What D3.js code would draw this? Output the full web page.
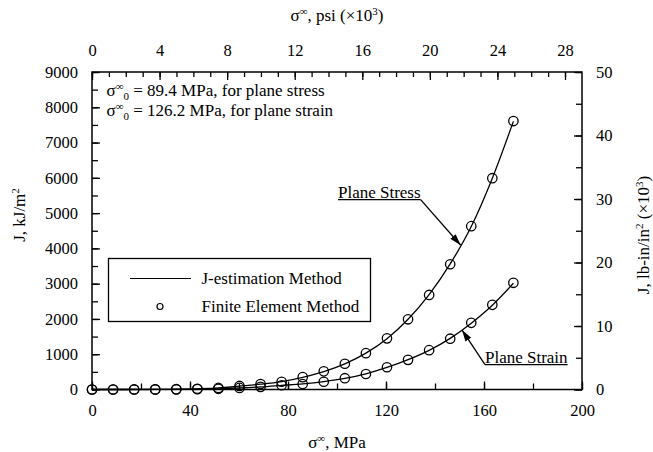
<!DOCTYPE html>
<html lang="en">
<head>
<meta charset="utf-8">
<title>J vs remote stress</title>
<script src="https://d3js.org/d3.v7.min.js"></script>
<style>
  body { margin: 0; background: #fff; }
  text { font-family: "Liberation Serif", "Times New Roman", serif; fill: #000; }
</style>
</head>
<body>
<script>
// remote stress at each load step, MPa
var stress = [0, 8.6, 17.2, 25.8, 34.4, 43, 51.6, 60.2, 68.8, 77.4, 86, 94.6,
              103.2, 111.8, 120.4, 129, 137.6, 146.2, 154.8, 163.4, 172];

// finite element results, J in kJ/m2
var feStress = [0, 0, 1, 3, 8, 20, 45, 100, 155, 220, 350, 515,
                730, 1030, 1450, 1990, 2680, 3550, 4630, 5990, 7610];
var feStrain = [0, 0, 0, 1, 4, 10, 20, 45, 75, 120, 155, 220,
                320, 440, 630, 840, 1115, 1440, 1890, 2400, 3025];

// J-estimation method curves, J in kJ/m2
var estStress = [0, 0, 1, 3, 8, 19, 42, 95, 150, 225, 345, 505,
                 725, 1030, 1440, 1990, 2690, 3560, 4620, 5990, 7600];
var estStrain = [0, 0, 0, 1, 4, 9, 19, 42, 72, 115, 160, 225,
                 315, 445, 625, 845, 1110, 1450, 1880, 2390, 3010];

// axis ticks
var mpaTicks = [0, 40, 80, 120, 160, 200];
var ksiTicks = [0, 4, 8, 12, 16, 20, 24, 28];
var jTicks = [0, 1000, 2000, 3000, 4000, 5000, 6000, 7000, 8000, 9000];
var lbTicks = [0, 10, 20, 30, 40, 50];

var w = 653, h = 452;
var pl = 92, pr = 582, pt = 72, pb = 389.5;

var svg = d3.select("body").append("svg").attr("width", w).attr("height", h);

var x = d3.scaleLinear().domain([0, 200]).range([pl, pr]);
var xTop = d3.scaleLinear().domain([0, 200 / 6.895]).range([pl, pr]);
var y = d3.scaleLinear().domain([0, 9000]).range([pb, pt]);
var yRight = d3.scaleLinear().domain([0, 50]).range([pb, pt]);

var fmt = d3.format("d");

function styleAxis(g) {
  g.select(".domain").remove();
  g.selectAll("line").attr("stroke", "#000").attr("stroke-width", 1.3);
  g.selectAll("text").style("font-size", "16.5px").attr("fill", "#000")
    .style("font-family", "'Liberation Serif', serif");
}

// minor ticks
svg.append("g").attr("transform", "translate(0," + pb + ")")
  .call(d3.axisBottom(x).tickValues(d3.range(0, 201, 20)).tickSize(-6).tickFormat(""))
  .call(styleAxis);
svg.append("g").attr("transform", "translate(0," + pt + ")")
  .call(d3.axisTop(xTop).tickValues(d3.range(0, 29, 1)).tickSize(-5).tickFormat(""))
  .call(styleAxis);
svg.append("g").attr("transform", "translate(" + pl + ",0)")
  .call(d3.axisLeft(y).tickValues(d3.range(0, 9001, 500)).tickSize(-6).tickFormat(""))
  .call(styleAxis);
svg.append("g").attr("transform", "translate(" + pr + ",0)")
  .call(d3.axisRight(yRight).tickValues(d3.range(0, 51, 5)).tickSize(-6).tickFormat(""))
  .call(styleAxis);

// major ticks + labels
svg.append("g").attr("transform", "translate(0," + pb + ")")
  .call(d3.axisBottom(x).tickValues(mpaTicks).tickSize(-8).tickPadding(15).tickFormat(fmt))
  .call(styleAxis);
svg.append("g").attr("transform", "translate(0," + pt + ")")
  .call(d3.axisTop(xTop).tickValues(ksiTicks).tickSize(-8).tickPadding(16).tickFormat(fmt))
  .call(styleAxis);
svg.append("g").attr("transform", "translate(" + pl + ",0)")
  .call(d3.axisLeft(y).tickValues(jTicks).tickSize(-8).tickPadding(14).tickFormat(fmt))
  .call(styleAxis);
svg.append("g").attr("transform", "translate(" + pr + ",0)")
  .call(d3.axisRight(yRight).tickValues(lbTicks).tickSize(-8).tickPadding(14).tickFormat(fmt))
  .call(styleAxis);

// frame
svg.append("rect").attr("x", pl).attr("y", pt)
  .attr("width", pr - pl).attr("height", pb - pt)
  .attr("fill", "none").attr("stroke", "#000").attr("stroke-width", 1.5);

// axis titles
var bt = svg.append("text").attr("x", (pl + pr) / 2).attr("y", 447.5)
  .attr("text-anchor", "middle").style("font-size", "17px");
bt.append("tspan").text("σ");
bt.append("tspan").attr("dy", -6).style("font-size", "11px").text("∞");
bt.append("tspan").attr("dy", 6).text(", MPa");

var tt = svg.append("text").attr("x", (pl + pr) / 2).attr("y", 20.5)
  .attr("text-anchor", "middle").style("font-size", "17px");
tt.append("tspan").text("σ");
tt.append("tspan").attr("dy", -6).style("font-size", "11px").text("∞");
tt.append("tspan").attr("dy", 6).text(", psi (×10");
tt.append("tspan").attr("dy", -6).style("font-size", "11px").text("3");
tt.append("tspan").attr("dy", 6).text(")");

var lt = svg.append("text").attr("transform", "translate(25,215) rotate(-90)")
  .attr("text-anchor", "middle").style("font-size", "17px");
lt.append("tspan").text("J, kJ/m");
lt.append("tspan").attr("dy", -6).style("font-size", "11px").text("2");

var rt = svg.append("text").attr("transform", "translate(649,235) rotate(-90)")
  .attr("text-anchor", "middle").style("font-size", "17px");
rt.append("tspan").text("J, lb-in/in");
rt.append("tspan").attr("dy", -6).style("font-size", "11px").text("2");
rt.append("tspan").attr("dy", 6).text(" (×10");
rt.append("tspan").attr("dy", -6).style("font-size", "11px").text("3");
rt.append("tspan").attr("dy", 6).text(")");

// reference stress notes
var notes = [["89.4 MPa, for plane stress", 95.5], ["126.2 MPa, for plane strain", 115.5]];
notes.forEach(function(n) {
  var t = svg.append("text").attr("x", 106.5).attr("y", n[1]).style("font-size", "17px");
  t.append("tspan").text("σ");
  t.append("tspan").attr("dy", -6).style("font-size", "11px").text("∞");
  t.append("tspan").attr("dy", 10).style("font-size", "11px").text("0");
  t.append("tspan").attr("dy", -4).text(" = " + n[0]);
});

// curves
var line = d3.line().curve(d3.curveMonotoneX)
  .x(function(d) { return x(d[0]); })
  .y(function(d) { return y(d[1]); });

[estStress, estStrain].forEach(function(s) {
  svg.append("path").datum(stress.map(function(v, i) { return [v, s[i]]; }))
    .attr("d", line).attr("fill", "none").attr("stroke", "#000").attr("stroke-width", 1.3);
});

[feStress, feStrain].forEach(function(s) {
  svg.append("g").selectAll("circle")
    .data(stress.map(function(v, i) { return [v, s[i]]; }))
    .enter().append("circle")
    .attr("cx", function(d) { return x(d[0]); })
    .attr("cy", function(d) { return y(d[1]); })
    .attr("r", 4.7)
    .attr("fill", "none").attr("stroke", "#000").attr("stroke-width", 1.3);
});

// labels with arrows
svg.append("defs").append("marker")
  .attr("id", "arrow").attr("viewBox", "0 0 10 6").attr("refX", 10).attr("refY", 3)
  .attr("markerWidth", 12).attr("markerHeight", 7).attr("markerUnits", "userSpaceOnUse")
  .attr("orient", "auto")
  .append("path").attr("d", "M0,0 L10,3 L0,6 Z").attr("fill", "#000");

function interp(arr, v) {
  var i = d3.bisectLeft(stress, v) - 1;
  var t = (v - stress[i]) / (stress[i + 1] - stress[i]);
  return arr[i] + t * (arr[i + 1] - arr[i]);
}

var callouts = [
  { name: "Plane Stress", at: [100.4, 5440], tip: 150.5, curve: estStress, fromEnd: true },
  { name: "Plane Strain", at: [160.4, 760], tip: 151, curve: estStrain, fromEnd: false }
];
callouts.forEach(function(c) {
  var tx = x(c.at[0]), ty = y(c.at[1]);
  var t = svg.append("text").attr("x", tx).attr("y", ty).style("font-size", "17px").text(c.name);
  var len = t.node().getComputedTextLength();
  svg.append("line").attr("x1", tx).attr("x2", tx + len).attr("y1", ty + 2).attr("y2", ty + 2)
    .attr("stroke", "#000").attr("stroke-width", 1.2);
  var sx = c.fromEnd ? tx + len : tx;
  svg.append("line").attr("x1", sx).attr("y1", ty + 2)
    .attr("x2", x(c.tip)).attr("y2", y(interp(c.curve, c.tip)))
    .attr("stroke", "#000").attr("stroke-width", 1.3).attr("marker-end", "url(#arrow)");
});

// legend
var lg = svg.append("g");
lg.append("rect").attr("x", 108.5).attr("y", 258.5).attr("width", 262).attr("height", 63)
  .attr("fill", "#fff").attr("stroke", "#000").attr("stroke-width", 1.3);
lg.append("line").attr("x1", 130).attr("x2", 191).attr("y1", 278.5).attr("y2", 278.5)
  .attr("stroke", "#000").attr("stroke-width", 1.2);
lg.append("circle").attr("cx", 160).attr("cy", 306.5).attr("r", 3)
  .attr("fill", "none").attr("stroke", "#000").attr("stroke-width", 1.2);
lg.append("text").attr("x", 201.5).attr("y", 284).style("font-size", "17px").text("J-estimation Method");
lg.append("text").attr("x", 201.5).attr("y", 312).style("font-size", "17px").text("Finite Element Method");
</script>
</body>
</html>
